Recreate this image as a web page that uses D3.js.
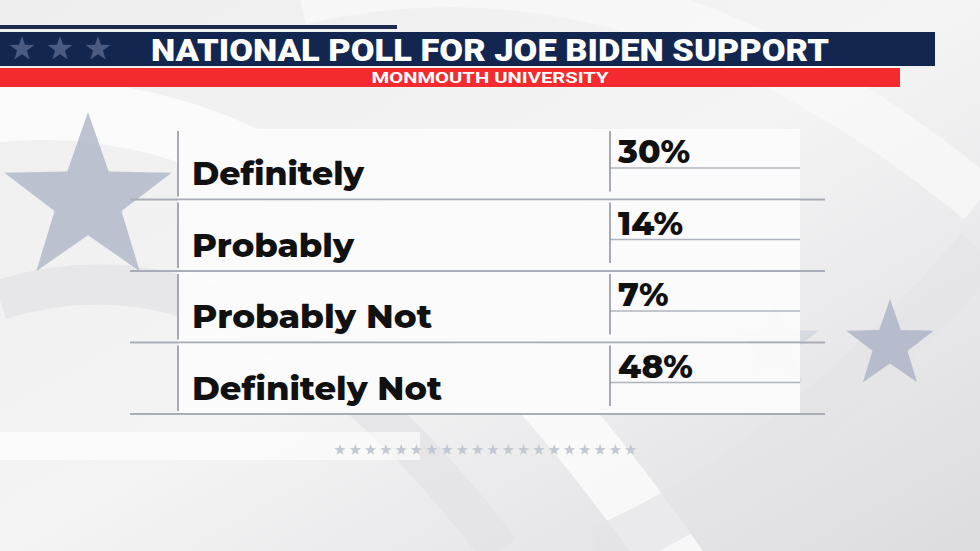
<!DOCTYPE html><html><head><script src="https://cdn.jsdelivr.net/npm/d3@7"></script>
<style>body{margin:0;overflow:hidden}</style></head><body><script>
const categories=["Definitely","Probably","Probably Not","Definitely Not"];
const values=[30,14,7,48];
const title="NATIONAL POLL FOR JOE BIDEN SUPPORT";
const subtitle="MONMOUTH UNIVERSITY";
const W=980,H=551;
const svg=d3.select("body").append("svg").attr("width",W).attr("height",H);
const defs=svg.append("defs");
const g=defs.append("linearGradient").attr("id","bg").attr("x1",0).attr("y1",0).attr("x2",1).attr("y2",1);
g.append("stop").attr("offset",0).attr("stop-color","#eeeeef");
g.append("stop").attr("offset",0.5).attr("stop-color","#f4f4f5");
g.append("stop").attr("offset",1).attr("stop-color","#dcdcdf");
svg.append("rect").attr("width",W).attr("height",H).attr("fill","url(#bg)");
[[ -50,120,700,600,"#ffffff",60],[0,300,500,551,"#e2e2e5",40],[600,551,980,250,"#e4e4e7",50],[300,0,980,200,"#fafafa",50]].forEach(d=>{
 svg.append("path").attr("d",`M${d[0]},${d[1]} Q${(d[0]+d[2])/2},${d[1]-80} ${d[2]},${d[3]}`).attr("stroke",d[4]).attr("stroke-width",d[5]).attr("fill","none").attr("opacity",0.7);});
function star(cx,cy,r){const p=[];for(let i=0;i<10;i++){const a=-Math.PI/2+i*Math.PI/5,rr=i%2?r*0.4:r;p.push([cx+rr*Math.cos(a),cy+rr*Math.sin(a)]);}return "M"+p.join("L")+"Z";}
svg.append("path").attr("d",star(88,200,88)).attr("fill","#aeb5c6").attr("opacity",0.8);
svg.append("path").attr("d",star(890,345,46)).attr("fill","#aab2c4").attr("opacity",0.8);
svg.append("path").attr("d",star(775,345,46)).attr("fill","#c5cad6").attr("opacity",0.5);
svg.append("rect").attr("x",0).attr("y",432).attr("width",420).attr("height",28).attr("fill","#ffffff").attr("opacity",0.6);
d3.range(20).forEach(i=>svg.append("path").attr("d",star(340+i*15.3,450,6)).attr("fill","#c3c7d2"));
svg.append("rect").attr("x",0).attr("y",25).attr("width",397).attr("height",4).attr("fill","#1b2a4d");
svg.append("rect").attr("x",0).attr("y",32).attr("width",935).attr("height",34).attr("fill","#13264f");
[22,60,98].forEach(x=>svg.append("path").attr("d",star(x,49,13)).attr("fill","#4a5a80"));
svg.append("text").attr("x",490).attr("y",61).attr("text-anchor","middle").attr("font-family","Roboto").attr("font-weight",900).attr("font-size",31).attr("fill","#fff").attr("textLength",678).attr("lengthAdjust","spacingAndGlyphs").text(title);
svg.append("rect").attr("x",0).attr("y",68).attr("width",900).attr("height",19).attr("fill","#f42a2e");
svg.append("text").attr("x",490).attr("y",83).attr("text-anchor","middle").attr("font-family","Roboto").attr("font-weight",700).attr("font-size",15).attr("fill","#fff").attr("textLength",237).attr("lengthAdjust","spacingAndGlyphs").text(subtitle);
const y=d3.scaleBand().domain(categories).range([128,414]);
const x0=178,x1=800,xd=610;
const rows=svg.selectAll("g.row").data(categories).join("g");
rows.append("rect").attr("x",x0).attr("y",d=>y(d)+1).attr("width",x1-x0).attr("height",y.bandwidth()-2).attr("fill","#fbfbfb").attr("opacity",0.95);
rows.append("line").attr("x1",130).attr("x2",825).attr("y1",d=>y(d)+y.bandwidth()).attr("y2",d=>y(d)+y.bandwidth()).attr("stroke","#a9adb8").attr("stroke-width",2);
rows.append("line").attr("x1",xd).attr("x2",x1).attr("y1",d=>y(d)+40).attr("y2",d=>y(d)+40).attr("stroke","#b0b4be").attr("stroke-width",1.5);
rows.append("line").attr("x1",x0).attr("x2",x0).attr("y1",d=>y(d)+3).attr("y2",d=>y(d)+y.bandwidth()-3).attr("stroke","#8a8f9c").attr("stroke-width",1.5);
rows.append("line").attr("x1",xd).attr("x2",xd).attr("y1",d=>y(d)+3).attr("y2",d=>y(d)+y.bandwidth()-8).attr("stroke","#8a8f9c").attr("stroke-width",1.5);
rows.append("text").attr("x",192).attr("y",d=>y(d)+57).attr("font-family","Montserrat, 'Open Sans', sans-serif").attr("font-weight",800).attr("font-size",32).attr("fill","#111").attr("textLength",(d,i)=>[172,162,240,250][i]).attr("lengthAdjust","spacingAndGlyphs").text(d=>d);
rows.append("text").attr("x",618).attr("y",d=>y(d)+35).attr("font-family","Montserrat, 'Open Sans', sans-serif").attr("font-weight",800).attr("font-size",33).attr("fill","#111").text((d,i)=>values[i]+"%");
</script></body></html>
